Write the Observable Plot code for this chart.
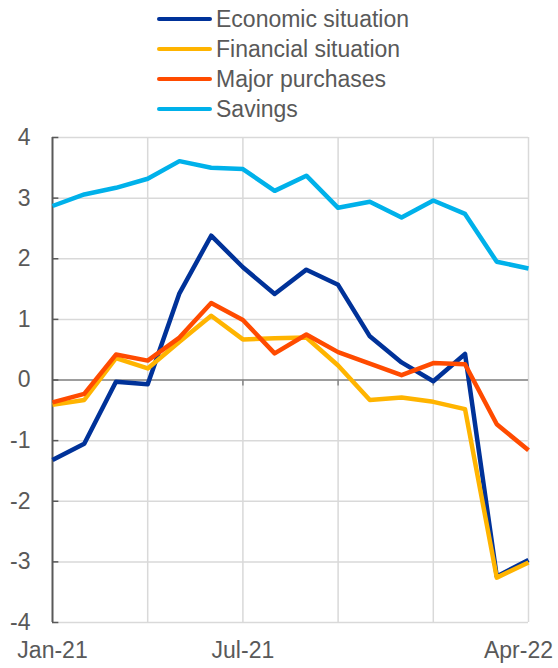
<!DOCTYPE html>
<html>
<head>
<meta charset="utf-8">
<script src="https://cdn.jsdelivr.net/npm/d3@7"></script>
<script src="https://cdn.jsdelivr.net/npm/@observablehq/plot@0.6"></script>
<style>
  html, body { margin: 0; padding: 0; background: #fff; }
  body { width: 558px; height: 668px; overflow: hidden; font-family: "Liberation Sans", Arial, sans-serif; color: #595959; }
  #legend { height: 122px; box-sizing: border-box; padding-top: 4px; }
  .row { height: 30px; display: flex; align-items: center; font-size: 23px; line-height: 30px; }
  .sw { width: 55px; height: 4px; border-radius: 2px; margin-left: 157px; margin-right: 4px; }
  #chart svg { display: block; }
</style>
</head>
<body>
<div id="legend"></div>
<div id="chart"></div>
<script>
const months = ["Jan-21","Feb-21","Mar-21","Apr-21","May-21","Jun-21","Jul-21","Aug-21","Sep-21","Oct-21","Nov-21","Dec-21","Jan-22","Feb-22","Mar-22","Apr-22"];
const seriesNames = ["Economic situation","Financial situation","Major purchases","Savings"];
const seriesColors = ["#003299","#FFB400","#FF4B00","#00B1EA"];
const economic  = [-1.32,-1.05,-0.03,-0.07,1.43,2.38,1.86,1.42,1.82,1.57,0.72,0.29,-0.02,0.43,-3.24,-2.97];
const financial = [-0.41,-0.33,0.36,0.19,0.63,1.06,0.67,0.69,0.70,0.24,-0.33,-0.29,-0.36,-0.48,-3.26,-3.01];
const major     = [-0.37,-0.23,0.42,0.32,0.70,1.27,0.99,0.44,0.75,0.46,0.27,0.08,0.28,0.26,-0.73,-1.16];
const savings   = [2.87,3.06,3.17,3.32,3.61,3.50,3.48,3.12,3.37,2.84,2.94,2.68,2.96,2.74,1.95,1.84];
const yTicks = [-4,-3,-2,-1,0,1,2,3,4];
const xLabelTicks = ["Jan-21","Jul-21"];
const xLastLabel = ["Apr-22"];
const quarterTicks = ["Apr-21","Jul-21","Oct-21","Jan-22","Apr-22"];

const allSeries = [economic, financial, major, savings];
const data = [];
allSeries.forEach((vals, s) => vals.forEach((v, i) => data.push({series: seriesNames[s], i, value: v})));
const idx = m => months.indexOf(m);

// Legend
const legend = document.getElementById("legend");
seriesNames.forEach((n, k) => {
  const row = document.createElement("div");
  row.className = "row";
  row.innerHTML = `<span class="sw" style="background:${seriesColors[k]}"></span><span>${n}</span>`;
  legend.appendChild(row);
});

const grid = "#d9d9d9";
const axisCol = "#595959";
const chart = Plot.plot({
  width: 558,
  height: 546,
  marginTop: 15,
  marginBottom: 46,
  marginLeft: 52,
  marginRight: 30,
  style: {fontFamily: "'Liberation Sans', Arial, sans-serif", fontSize: "23px", color: axisCol, background: "white"},
  x: {type: "linear", domain: [0, months.length - 1], axis: null},
  y: {domain: [-4, 4], axis: null},
  color: {domain: seriesNames, range: seriesColors},
  marks: [
    Plot.ruleY(yTicks, {stroke: grid, strokeWidth: 1.5}),
    Plot.ruleX(quarterTicks.map(idx), {stroke: grid, strokeWidth: 1.5}),
    Plot.ruleY([0], {stroke: "#868686", strokeWidth: 1.5}),
    Plot.ruleX(quarterTicks.slice(0, -1).map(idx), {x: d => d, y1: 0, y2: -0.1, stroke: "#868686", strokeWidth: 1.5}),
    Plot.ruleX([0], {stroke: axisCol, strokeWidth: 2}),
    Plot.ruleY(yTicks, {y: d => d, x1: 0, x2: 0.2, stroke: axisCol, strokeWidth: 1.5}),
    Plot.axisY(yTicks, {tickSize: 0, tickPadding: 22, fontSize: 23, fill: axisCol, label: null, tickFormat: d => String(d)}),
    Plot.axisX(xLabelTicks.map(idx), {tickSize: 0, tickPadding: 19, fontSize: 23, fill: axisCol, label: null, tickFormat: i => months[i]}),
    Plot.axisX(xLastLabel.map(idx), {tickSize: 0, tickPadding: 19, fontSize: 23, fill: axisCol, label: null, dx: -10, tickFormat: i => months[i]}),
    Plot.line(data, {x: "i", y: "value", z: "series", stroke: "series", strokeWidth: 4.5, strokeLinejoin: "round", strokeLinecap: "butt"})
  ]
});
document.getElementById("chart").appendChild(chart);
</script>
</body>
</html>
